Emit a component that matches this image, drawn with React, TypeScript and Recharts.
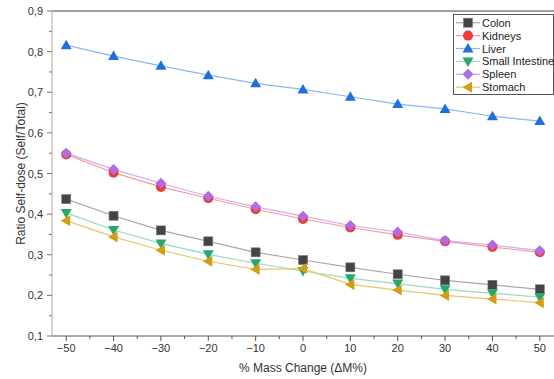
import React from "react";
import { LineChart, Line, XAxis, YAxis, ReferenceLine, Legend } from "recharts";

const massChange = [-50, -40, -30, -20, -10, 0, 10, 20, 30, 40, 50];
const colon = [0.437, 0.396, 0.36, 0.333, 0.306, 0.287, 0.269, 0.252, 0.237, 0.226, 0.215];
const kidneys = [0.547, 0.502, 0.467, 0.439, 0.412, 0.388, 0.367, 0.349, 0.333, 0.319, 0.306];
const liver = [0.816, 0.789, 0.765, 0.742, 0.722, 0.707, 0.689, 0.671, 0.659, 0.641, 0.629];
const smallIntestine = [0.403, 0.361, 0.328, 0.301, 0.279, 0.26, 0.242, 0.229, 0.215, 0.205, 0.196];
const spleen = [0.55, 0.51, 0.476, 0.444, 0.418, 0.395, 0.372, 0.356, 0.335, 0.324, 0.31];
const stomach = [0.384, 0.344, 0.311, 0.284, 0.264, 0.266, 0.227, 0.213, 0.2, 0.191, 0.182];

const xTicks = [-50, -45, -40, -35, -30, -25, -20, -15, -10, -5, 0, 5, 10, 15, 20, 25, 30, 35, 40, 45, 50];
const yTicks = [0.1, 0.15, 0.2, 0.25, 0.3, 0.35, 0.4, 0.45, 0.5, 0.55, 0.6, 0.65, 0.7, 0.75, 0.8, 0.85, 0.9];

const FONT = "'Liberation Sans', Arial, sans-serif";

type SeriesDef = { key: string; name: string; values: number[]; line: string; fill: string; shape: string };
const series: SeriesDef[] = [
  { key: "colon", name: "Colon", values: colon, line: "#a8a8a8", fill: "#444444", shape: "square" },
  { key: "kidneys", name: "Kidneys", values: kidneys, line: "#f59a9a", fill: "#f03a3a", shape: "circle" },
  { key: "liver", name: "Liver", values: liver, line: "#8cb6ee", fill: "#1f6fdc", shape: "up" },
  { key: "smallIntestine", name: "Small Intestine", values: smallIntestine, line: "#98dbb8", fill: "#2aa86c", shape: "down" },
  { key: "spleen", name: "Spleen", values: spleen, line: "#cfaaf2", fill: "#b06ce0", shape: "diamond" },
  { key: "stomach", name: "Stomach", values: stomach, line: "#e8c66a", fill: "#d49e12", shape: "left" },
];

const data = massChange.map((x, i) => {
  const row: Record<string, number> = { x };
  series.forEach((s) => (row[s.key] = s.values[i]));
  return row;
});

function Marker({ shape, cx, cy, fill }: { shape: string; cx: number; cy: number; fill: string }) {
  const s = 5;
  switch (shape) {
    case "square":
      return <rect x={cx - 4.5} y={cy - 4.5} width={9} height={9} fill={fill} stroke="#777" strokeWidth={0.6} />;
    case "circle":
      return <circle cx={cx} cy={cy} r={5} fill={fill} />;
    case "up":
      return <polygon points={`${cx},${cy - s - 0.5} ${cx - s - 0.5},${cy + s - 1} ${cx + s + 0.5},${cy + s - 1}`} fill={fill} />;
    case "down":
      return <polygon points={`${cx},${cy + s + 0.5} ${cx - s - 0.5},${cy - s + 1} ${cx + s + 0.5},${cy - s + 1}`} fill={fill} />;
    case "diamond":
      return <polygon points={`${cx},${cy - s - 0.5} ${cx + s + 0.5},${cy} ${cx},${cy + s + 0.5} ${cx - s - 0.5},${cy}`} fill={fill} />;
    case "left":
      return <polygon points={`${cx - s - 0.5},${cy} ${cx + s - 1},${cy - s - 0.5} ${cx + s - 1},${cy + s + 0.5}`} fill={fill} />;
    default:
      return null;
  }
}

const isMajorY = (v: number) => Math.abs(v * 10 - Math.round(v * 10)) < 1e-6;
const isMajorX = (v: number) => Math.abs(v / 10 - Math.round(v / 10)) < 1e-6;
const fmtY = (v: number) => v.toFixed(1).replace(".", ",");
const fmtX = (v: number) => (v < 0 ? "\u2212" + Math.abs(v) : String(v));

const YTick = (props: any) => {
  const { x, y, payload } = props;
  const major = isMajorY(payload.value);
  return (
    <g>
      <line x1={x - (major ? 5 : 3)} x2={x} y1={y} y2={y} stroke="#777" strokeWidth={1} />
      {major && (
        <text x={x - 9} y={y} dy={4} textAnchor="end" fontSize={11} fontFamily={FONT} fill="#333">
          {fmtY(payload.value)}
        </text>
      )}
    </g>
  );
};

const XTick = (props: any) => {
  const { x, y, payload } = props;
  const major = isMajorX(payload.value);
  return (
    <g>
      <line x1={x} x2={x} y1={y} y2={y + (major ? 5 : 3)} stroke="#555" strokeWidth={1} />
      {major && (
        <text x={x} y={y + 16} textAnchor="middle" fontSize={11} fontFamily={FONT} fill="#333">
          {fmtX(payload.value)}
        </text>
      )}
    </g>
  );
};

const LegendContent = () => {
  const rowH = 12.9;
  return (
    <svg width={101} height={81} style={{ display: "block" }}>
      <rect x={0.5} y={0.5} width={100} height={80} fill="#fff" stroke="#555" strokeWidth={1} />
      {series.map((s, i) => {
        const cy = 8.7 + i * rowH;
        return (
          <g key={s.key}>
            <line x1={3} x2={27} y1={cy} y2={cy} stroke={s.line} strokeWidth={1.2} />
            <Marker shape={s.shape} cx={15} cy={cy} fill={s.fill} />
            <text x={29} y={cy + 4} fontSize={11} fontFamily={FONT} fill="#222">
              {s.name}
            </text>
          </g>
        );
      })}
    </svg>
  );
};

export default function App() {
  return (
    <div style={{ position: "absolute", left: 0, top: 0, width: 554, height: 379, background: "#fff" }}>
      <LineChart width={554} height={379} data={data} margin={{ top: 11, right: 0, bottom: 0, left: 0 }}>
        <XAxis
          dataKey="x"
          type="number"
          domain={[-53, 53]}
          ticks={xTicks}
          interval={0}
          height={43}
          tickSize={0}
          tickMargin={0}
          tickLine={false}
          tick={<XTick />}
          axisLine={{ stroke: "#555", strokeWidth: 1 }}
          label={{ value: "% Mass Change (\u0394M%)", position: "center", dy: 10, fontSize: 12, fontFamily: FONT, fill: "#333" }}
        />
        <YAxis
          type="number"
          domain={[0.1, 0.9]}
          ticks={yTicks}
          interval={0}
          width={52}
          tickSize={0}
          tickMargin={0}
          tickLine={false}
          tick={<YTick />}
          axisLine={{ stroke: "#aaa", strokeWidth: 1 }}
          label={{ value: "Ratio Self-dose (Self/Total)", angle: -90, position: "center", dx: -5, fontSize: 12, fontFamily: FONT, fill: "#333" }}
        />
        <ReferenceLine y={0.9} stroke="#444" strokeWidth={1} />
        {series.map((s) => (
          <Line
            key={s.key}
            dataKey={s.key}
            name={s.name}
            stroke={s.line}
            strokeWidth={1.2}
            isAnimationActive={false}
            dot={(p: any) => <Marker key={`${s.key}-${p.index}`} shape={s.shape} cx={p.cx} cy={p.cy} fill={s.fill} />}
            activeDot={false}
          />
        ))}
        <Legend
          layout="vertical"
          verticalAlign="middle"
          align="center"
          wrapperStyle={{ top: 14, left: 453, width: 101 }}
          content={<LegendContent />}
        />
      </LineChart>
    </div>
  );
}
